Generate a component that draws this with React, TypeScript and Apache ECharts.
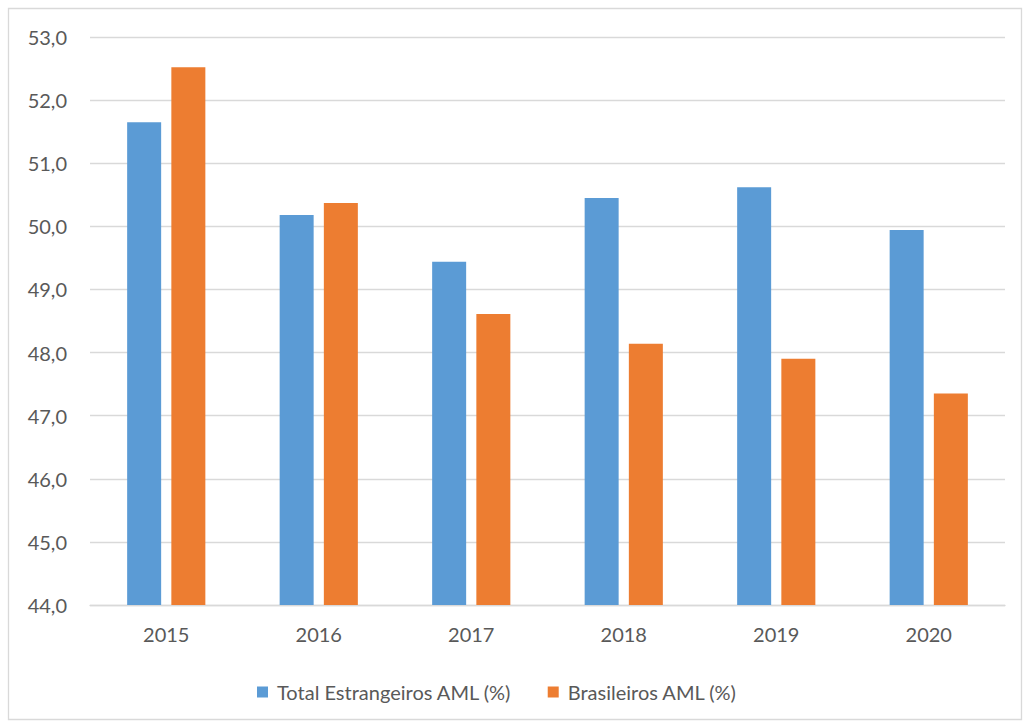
import React, { useEffect, useRef } from "react";
import * as echarts from "echarts";

const years = ["2015", "2016", "2017", "2018", "2019", "2020"];
const estrangeiros = [51.65, 50.18, 49.44, 50.45, 50.62, 49.94];
const brasileiros = [52.52, 50.37, 48.61, 48.14, 47.9, 47.35];
const seriesNames = ["Total Estrangeiros AML (%)", "Brasileiros AML (%)"];

const FONT = "Lato, 'Noto Sans', sans-serif";
const TEXT = "#595959";
const GRID = "#d9d9d9";

export default function App() {
  const ref = useRef<HTMLDivElement>(null);

  useEffect(() => {
    document.body.style.margin = "0";
    const chart = echarts.init(ref.current!, null, { renderer: "svg" });
    chart.setOption({
      animation: false,
      backgroundColor: "#ffffff",
      textStyle: { fontFamily: FONT },
      graphic: [
        {
          type: "rect",
          shape: { x: 8.5, y: 8.5, width: 1013, height: 711 },
          style: { fill: "none", stroke: GRID, lineWidth: 1.3 },
          silent: true,
        },
      ],
      grid: { left: 90, right: 20, top: 37, bottom: 118, containLabel: false },
      legend: {
        left: 257,
        top: 682,
        padding: 0,
        itemWidth: 11,
        itemHeight: 11,
        itemGap: 36,
        icon: "rect",
        textStyle: { color: TEXT, fontSize: 20, fontFamily: FONT, padding: [0, 0, 0, 4] },
        data: seriesNames,
      },
      xAxis: {
        type: "category",
        data: years,
        axisLine: { lineStyle: { color: GRID, width: 1.3 } },
        axisTick: { show: false },
        axisLabel: { color: TEXT, fontSize: 20, margin: 19, fontFamily: FONT },
      },
      yAxis: {
        type: "value",
        min: 44,
        max: 53,
        interval: 1,
        axisLine: { show: false },
        axisTick: { show: false },
        splitLine: { lineStyle: { color: GRID, width: 1.3 } },
        axisLabel: {
          color: TEXT,
          fontSize: 20,
          margin: 23,
          fontFamily: FONT,
          formatter: (v: number) => v.toFixed(1).replace(".", ","),
        },
      },
      series: [
        {
          name: seriesNames[0],
          type: "bar",
          data: estrangeiros,
          barWidth: 34,
          barGap: "30%",
          itemStyle: { color: "#5b9bd5" },
        },
        {
          name: seriesNames[1],
          type: "bar",
          data: brasileiros,
          barWidth: 34,
          itemStyle: { color: "#ed7d31" },
        },
      ],
    });
    return () => chart.dispose();
  }, []);

  return <div ref={ref} style={{ width: 1025, height: 723 }} />;
}
